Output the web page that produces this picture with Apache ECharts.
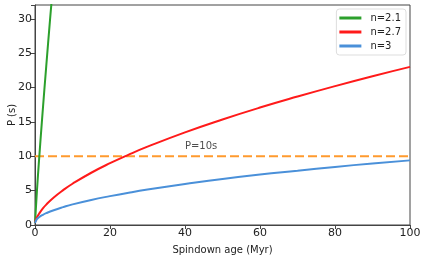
<!DOCTYPE html>
<html><head><meta charset="utf-8">
<script src="https://cdn.jsdelivr.net/npm/echarts@6/dist/echarts.min.js"></script>
<style>html,body{margin:0;padding:0;background:#fff}#c{width:425px;height:257px}</style>
</head><body><div id="c"></div>
<script>
const ages = [0, 0.5, 1, 2, 3, 5, 7.5, 10, 15, 20, 25, 30, 40, 50, 60, 70, 80, 90, 100];
const agesGreen = [0, 0.5, 1, 2, 3, 4, 5];
const pN21 = [0.3, 4.8, 8.85, 16.2, 23.1, 29.8, 36.2];
const pN27 = [0.4, 1.1, 1.56, 2.34, 2.97, 4.0, 5.07, 6.0, 7.6, 8.99, 10.24, 11.39, 13.48, 15.35, 17.08, 18.68, 20.2, 21.64, 23.0];
const pN3 = [0.3, 0.85, 1.1, 1.45, 1.72, 2.15, 2.6, 3.0, 3.65, 4.2, 4.7, 5.15, 5.95, 6.7, 7.35, 7.9, 8.45, 8.95, 9.4];
const refP = 10;
const refLabel = 'P=10s';
const refLabelPos = [44.3, 11.45];
const names = ['n=2.1', 'n=2.7', 'n=3'];

const zip = (a, b) => a.map((v, i) => [v, b[i]]);
const font = 'DejaVu Sans';
const chart = echarts.init(document.getElementById('c'));
chart.setOption({
  animation: false,
  grid: {left: 35, right: 15, top: 5, bottom: 32, show: true, borderColor: '#444', borderWidth: 1,
         containLabel: false, outerBoundsMode: 'none'},
  legend: {
    top: 9, right: 19, orient: 'vertical', itemWidth: 22, itemHeight: 3, itemGap: 4,
    borderColor: '#ddd', borderWidth: 1, borderRadius: 3, padding: [4, 5, 4, 3],
    icon: 'rect', data: names,
    textStyle: {fontFamily: font, fontSize: 10, color: '#222', padding: [0, 0, 0, 4]}
  },
  xAxis: {
    type: 'value', min: 0, max: 100, interval: 20,
    name: 'Spindown age (Myr)', nameLocation: 'middle', nameGap: 20, nameMoveOverlap: false,
    nameTextStyle: {fontFamily: font, fontSize: 10, color: '#222'},
    axisLine: {lineStyle: {color: '#444'}},
    axisTick: {length: 4, lineStyle: {color: '#444'}},
    axisLabel: {fontFamily: font, fontSize: 11, color: '#222', margin: 3},
    splitLine: {show: false}
  },
  yAxis: {
    type: 'value', min: 0, max: 32, interval: 5,
    name: 'P (s)', nameLocation: 'middle', nameGap: 18, nameMoveOverlap: false,
    nameTextStyle: {fontFamily: font, fontSize: 10, color: '#222'},
    axisLine: {show: true, lineStyle: {color: '#444'}},
    axisTick: {show: true, length: 4, lineStyle: {color: '#444'}},
    axisLabel: {fontFamily: font, fontSize: 11, color: '#222', margin: 3,
      formatter: v => (v % 5 === 0 ? v : '')},
    splitLine: {show: false}
  },
  series: [
    {name: names[0], type: 'line', data: zip(agesGreen, pN21), smooth: true, showSymbol: false, clip: true,
     lineStyle: {color: '#2ca02c', width: 2}, itemStyle: {color: '#2ca02c'}, z: 3},
    {name: names[1], type: 'line', data: zip(ages, pN27), smooth: true, showSymbol: false, clip: true,
     lineStyle: {color: '#ff1a1a', width: 2}, itemStyle: {color: '#ff1a1a'}, z: 3},
    {name: names[2], type: 'line', data: zip(ages, pN3), smooth: true, showSymbol: false, clip: true,
     lineStyle: {color: '#4a90d9', width: 2}, itemStyle: {color: '#4a90d9'}, z: 3},
    {name: 'ref', type: 'line', data: [[0, refP], [100, refP]], showSymbol: false,
     lineStyle: {color: '#ff9a2e', width: 2, type: [9, 4]}, z: 2},
    {name: 'lab', type: 'scatter', data: [refLabelPos], symbolSize: 0,
     label: {show: true, position: 'inside', formatter: refLabel, fontFamily: font, fontSize: 10, color: '#222'}}
  ]
});
</script></body></html>
